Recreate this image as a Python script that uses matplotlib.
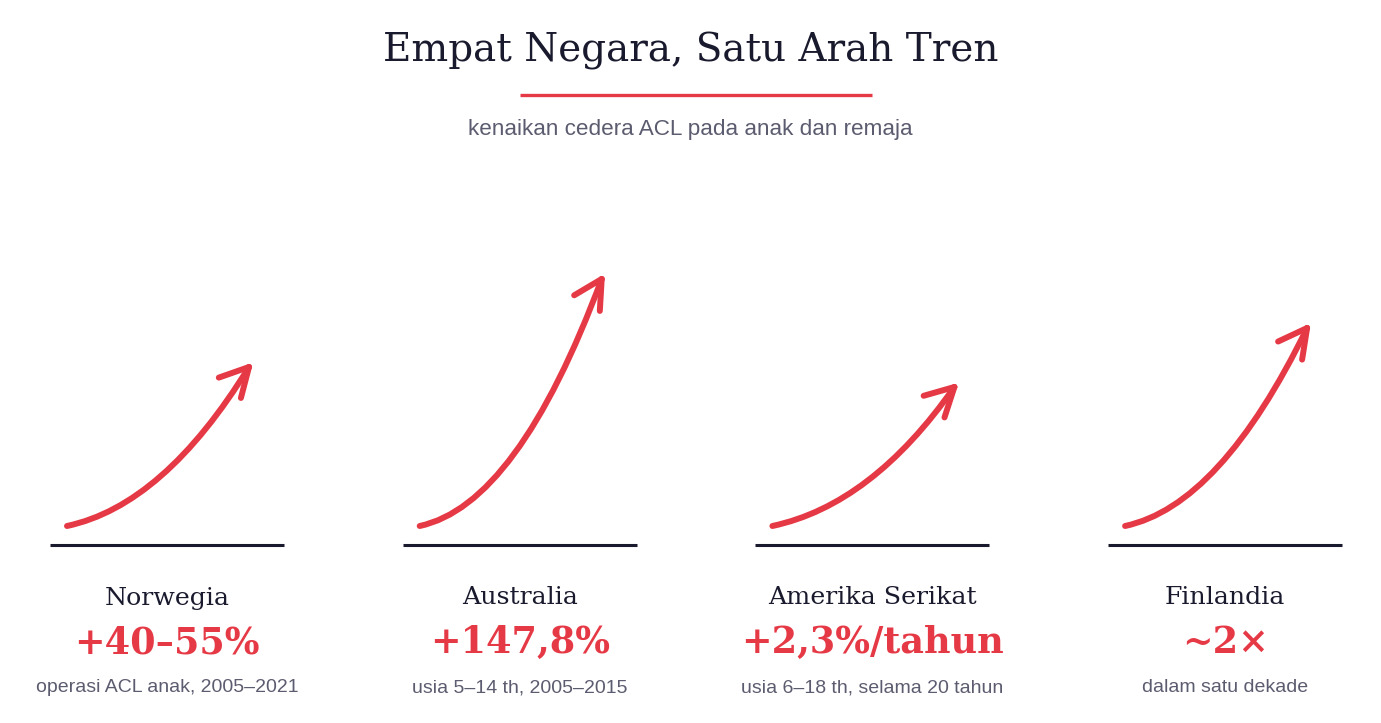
import numpy as np
import matplotlib.pyplot as plt
from matplotlib.patches import FancyArrowPatch

# Panel data
countries = ["Norwegia", "Australia", "Amerika Serikat", "Finlandia"]
stats = ["+40–55%", "+147,8%", "+2,3%/tahun", "~2×"]
notes = ["operasi ACL anak, 2005–2021", "usia 5–14 th, 2005–2015",
         "usia 6–18 th, selama 20 tahun", "dalam satu dekade"]
# height of each arrow tip above the baseline (relative sketch units, px)
arrow_rise = [178, 266, 158, 217]

RED = "#e63946"
DARK = "#1a1a2e"
GRAY = "#5c5c70"

W, H = 1381, 723
fig = plt.figure(figsize=(W / 100, H / 100), dpi=100)
ax = fig.add_axes([0, 0, 1, 1])
ax.set_xlim(0, W)
ax.set_ylim(H, 0)
ax.axis("off")

# title block
ax.text(W / 2, 51, "Empat Negara, Satu Arah Tren", ha="center", va="center",
        family="DejaVu Serif", fontsize=28, color=DARK)
ax.plot([520, 872], [95, 95], color=RED, lw=2.4, solid_capstyle="butt")
ax.text(W / 2, 130, "kenaikan cedera ACL pada anak dan remaja", ha="center", va="center",
        family="Liberation Sans", fontsize=16.2, color=GRAY)

base_y = 545
span = 182      # horizontal reach of each arrow
head_len = 32   # length of each arrow-head stroke
head_half = np.radians(28)
for i, (name, stat, note, rise) in enumerate(zip(countries, stats, notes, arrow_rise)):
    cx = 167 + i * 352.7
    ax.plot([cx - 117, cx + 117], [base_y, base_y], color=DARK, lw=2.2, solid_capstyle="butt")

    x0, y0 = cx - 100, base_y - 19
    x1, y1 = x0 + span, base_y - rise
    chord = np.degrees(np.arctan2(rise, span))
    # curved shaft: flat start, steeper finish
    shaft = FancyArrowPatch((x0, y0), (x1, y1),
                            connectionstyle=f"angle3,angleA=12,angleB={chord + 14:.1f}",
                            arrowstyle="-", color=RED, lw=4.3, capstyle="round",
                            joinstyle="round", shrinkA=0, shrinkB=0)
    ax.add_patch(shaft)

    # open hand-drawn head, pointing a bit flatter than the shaft
    d = np.radians(chord + 3)
    for s in (-1, 1):
        a = d + np.pi + s * head_half
        ax.plot([x1, x1 + head_len * np.cos(a)], [y1, y1 - head_len * np.sin(a)],
                color=RED, lw=4.3, solid_capstyle="round")

    ax.text(cx, 598, name, ha="center", va="center", family="DejaVu Serif",
            fontsize=18.2, color=DARK)
    ax.text(cx, 643, stat, ha="center", va="center", family="DejaVu Serif",
            fontsize=26.4, fontweight="bold", color=RED)
    ax.text(cx, 688, note, ha="center", va="center", family="Liberation Sans",
            fontsize=14, color=GRAY)

fig.savefig("out.png", dpi=100, facecolor="white")
